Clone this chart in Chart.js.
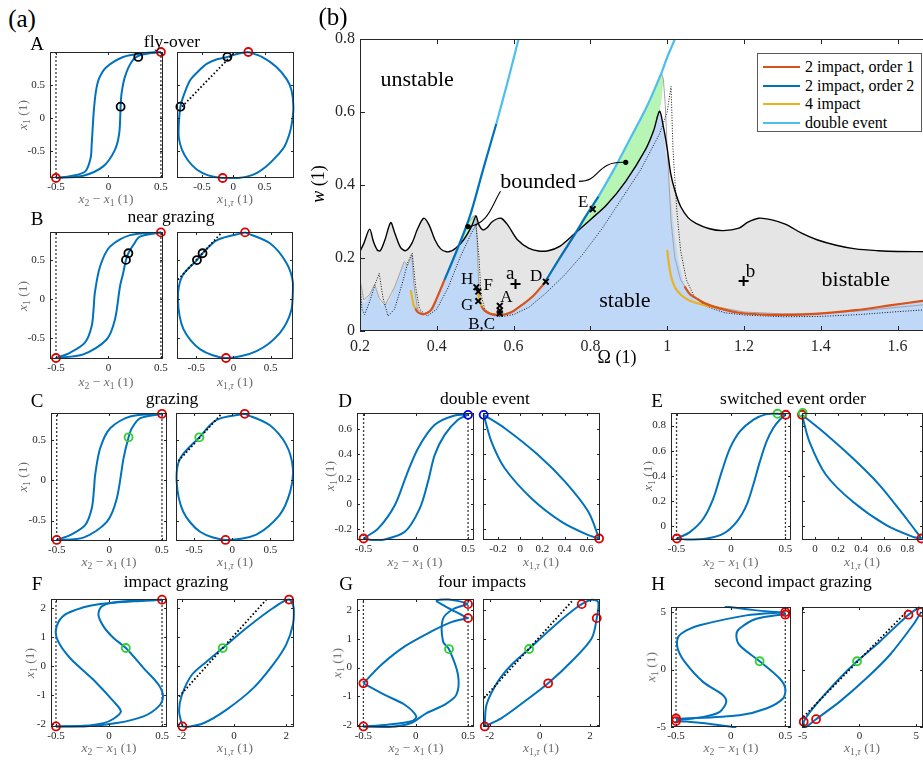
<!DOCTYPE html>
<html><head><meta charset="utf-8">
<script src="https://cdn.jsdelivr.net/npm/chart.js@4.4.1/dist/chart.umd.min.js"></script>
<style>
html,body{margin:0;padding:0;}
body{width:923px;height:764px;overflow:hidden;background:#fff;position:relative;font-family:"Liberation Serif","Times New Roman",serif;}
canvas.c{position:absolute;}
.t{position:absolute;white-space:nowrap;line-height:1;color:#000;transform:translate(-50%,-50%);}
.t sub{font-size:0.72em;vertical-align:-0.28em;line-height:0;}
.g{color:#6e6e6e;}
.legend{position:absolute;left:757px;top:53px;width:163px;height:77px;border:1px solid #5a5a5a;background:#fff;}
.legend .row{position:absolute;left:0;height:18px;}
.legend .ln{position:absolute;left:5px;width:37px;height:0;border-top:2.4px solid;}
.legend .tx{position:absolute;left:47px;font-size:16px;white-space:nowrap;line-height:1;}
</style></head><body>
<script>
// ---------------- DATA : panel (b) ----------------
const bTicksX = [0.2,0.4,0.6,0.8,1,1.2,1.4,1.6];
const bTicksY = [0,0.2,0.4,0.6,0.8];
const bBlackCurve = [[0.2,0.218],[0.21,0.24],[0.225,0.279],[0.235,0.245],[0.245,0.222],[0.253,0.22],[0.265,0.25],[0.28,0.297],[0.29,0.27],[0.305,0.23],[0.319,0.22],[0.335,0.24],[0.35,0.28],[0.366,0.309],[0.38,0.29],[0.395,0.25],[0.41,0.225],[0.425,0.217],[0.44,0.22],[0.455,0.232],[0.47,0.25],[0.481,0.268],[0.492,0.29],[0.502,0.315],[0.51,0.29],[0.52,0.277],[0.53,0.282],[0.545,0.3],[0.567,0.309],[0.585,0.29],[0.61,0.25],[0.639,0.227],[0.665,0.219],[0.69,0.22],[0.72,0.232],[0.76,0.268],[0.8,0.305],[0.842,0.345],[0.892,0.41],[0.943,0.496],[0.965,0.55],[0.98,0.602],[0.99,0.56],[1.0,0.5],[1.009,0.432],[1.02,0.385],[1.035,0.341],[1.055,0.31],[1.075,0.295],[1.11,0.28],[1.146,0.275],[1.187,0.282],[1.21,0.298],[1.238,0.309],[1.27,0.305],[1.309,0.292],[1.35,0.268],[1.39,0.25],[1.44,0.235],[1.49,0.225],[1.55,0.22],[1.6,0.218],[1.7,0.217]];
const bStableBoundary = [[0.2,0.13],[0.207,0.078],[0.215,0.08],[0.225,0.1],[0.238,0.126],[0.248,0.09],[0.258,0.07],[0.275,0.08],[0.295,0.13],[0.31,0.175],[0.319,0.19],[0.327,0.175],[0.333,0.2],[0.337,0.21],[0.342,0.12],[0.35,0.06],[0.36,0.048],[0.37,0.047],[0.385,0.058],[0.4,0.09],[0.42,0.14],[0.44,0.19],[0.455,0.232],[0.47,0.25],[0.481,0.268],[0.492,0.29],[0.502,0.315],[0.505,0.22],[0.508,0.13],[0.513,0.08],[0.52,0.058],[0.535,0.047],[0.56,0.044],[0.59,0.05],[0.62,0.068],[0.65,0.095],[0.68,0.131],[0.72,0.2],[0.76,0.268],[0.8,0.305],[0.842,0.345],[0.892,0.41],[0.943,0.496],[0.965,0.55],[0.98,0.602],[0.985,0.59],[0.99,0.55],[1.0,0.45],[1.01,0.36],[1.02,0.26],[1.03,0.19],[1.04,0.145],[1.047,0.12],[1.06,0.1],[1.075,0.09],[1.1,0.075],[1.136,0.062],[1.187,0.05],[1.25,0.045],[1.3,0.044],[1.39,0.047],[1.49,0.057],[1.58,0.07],[1.66,0.082],[1.7,0.088]];
const bGreenLeft = [[0.455,0.232],[0.47,0.268],[0.481,0.295],[0.495,0.315],[0.502,0.316],[0.492,0.29],[0.481,0.268],[0.47,0.25],[0.455,0.232]];
const bGreenRight = [[0.76,0.268],[0.82,0.37],[0.86,0.44],[0.9,0.52],[0.94,0.6],[0.96,0.645],[0.985,0.707],[0.99,0.69],[0.985,0.63],[0.98,0.602],[0.965,0.55],[0.943,0.496],[0.892,0.41],[0.842,0.345],[0.8,0.305],[0.76,0.268]];
const bGrayThin = [[0.2,0.14],[0.21,0.085],[0.225,0.1],[0.238,0.128],[0.25,0.09],[0.265,0.07],[0.29,0.12],[0.315,0.19],[0.325,0.18],[0.335,0.21],[0.34,0.13],[0.35,0.06],[0.365,0.046],[0.39,0.06],[0.42,0.14],[0.455,0.232],[0.47,0.268],[0.481,0.295],[0.495,0.315],[0.502,0.316],[0.505,0.25],[0.508,0.15],[0.512,0.09],[0.52,0.06],[0.54,0.047],[0.57,0.045],[0.6,0.055],[0.64,0.085],[0.68,0.13],[0.72,0.195],[0.76,0.262],[0.82,0.37],[0.86,0.44],[0.9,0.52],[0.94,0.6],[0.96,0.645],[0.985,0.707],[0.99,0.69],[0.995,0.62],[1.0,0.5],[1.005,0.4],[1.01,0.3],[1.02,0.2],[1.035,0.14],[1.06,0.1],[1.1,0.072],[1.2,0.052],[1.3,0.047],[1.4,0.049],[1.5,0.055],[1.6,0.065],[1.7,0.075]];
const bDotted = [[0.2,0.13],[0.205,0.06],[0.212,0.045],[0.225,0.08],[0.24,0.13],[0.25,0.158],[0.26,0.09],[0.273,0.041],[0.29,0.06],[0.31,0.13],[0.325,0.19],[0.336,0.213],[0.345,0.12],[0.355,0.06],[0.375,0.041],[0.4,0.06],[0.43,0.12],[0.46,0.2],[0.49,0.268],[0.502,0.29],[0.51,0.2],[0.515,0.1],[0.525,0.06],[0.545,0.043],[0.567,0.039],[0.6,0.045],[0.64,0.065],[0.68,0.1],[0.73,0.15],[0.78,0.21],[0.83,0.28],[0.88,0.36],[0.93,0.44],[0.98,0.54],[1.0,0.6],[1.01,0.67],[1.015,0.5],[1.025,0.33],[1.035,0.22],[1.05,0.14],[1.07,0.095],[1.1,0.068],[1.15,0.05],[1.2,0.044],[1.3,0.039],[1.4,0.04],[1.5,0.045],[1.6,0.053],[1.7,0.06]];
const bImpact1Order1 = [[[0.344,0.062],[0.35,0.052],[0.36,0.047],[0.37,0.047],[0.385,0.058],[0.4,0.09],[0.42,0.14]],
  [[0.516,0.068],[0.525,0.055],[0.54,0.047],[0.56,0.044],[0.58,0.046],[0.6,0.055],[0.62,0.07],[0.65,0.095],[0.68,0.131]],
  [[1.045,0.122],[1.06,0.1],[1.075,0.09],[1.1,0.075],[1.136,0.062],[1.187,0.05],[1.25,0.045],[1.3,0.044],[1.39,0.047],[1.49,0.057],[1.58,0.07],[1.66,0.082],[1.7,0.088]]];
const bImpact4 = [[[0.332,0.112],[0.336,0.09],[0.34,0.07],[0.344,0.062]],
  [[0.505,0.118],[0.508,0.1],[0.512,0.08],[0.516,0.068]],
  [[1.0,0.222],[1.005,0.18],[1.01,0.15],[1.02,0.12],[1.035,0.1],[1.055,0.085],[1.085,0.074],[1.116,0.066],[1.15,0.06]]];
const bImpact2Order2 = [[[0.42,0.14],[0.45,0.215],[0.486,0.314],[0.52,0.44],[0.555,0.568]],
  [[0.68,0.131],[0.72,0.2],[0.76,0.266],[0.79,0.318],[0.821,0.368]]];
const bDoubleEvent = [[[0.555,0.568],[0.585,0.685],[0.613,0.8],[0.62,0.83]],
  [[0.821,0.368],[0.86,0.44],[0.9,0.52],[0.94,0.6],[0.96,0.645],[0.985,0.707],[1.0,0.75],[1.02,0.8],[1.03,0.83]]];
const bCrossX = [[0.806,0.334],[0.684,0.135],[0.564,0.069],[0.564,0.048],[0.564,0.056],[0.503,0.12],[0.508,0.108],[0.508,0.082]];
const bCrossPlus = [[0.605,0.129],[1.199,0.137]];
const bDots = [[0.481,0.286],[0.892,0.462]];
const bLegendNames = ['2 impact, order 1','2 impact, order 2','4 impact','double event'];

// ---------------- DATA : panels A-H ----------------
const tHalf = [-0.5,0,0.5];
const tD = [-0.2,0,0.2,0.4,0.6];
const tE = [0,0.2,0.4,0.6,0.8];
const tTwo = [-2,-1,0,1,2];
const tTwoX = [-2,0,2];
const tFive = [-5,0,5];

const A_left = [[[-0.5,-0.9],[-0.35,-0.87],[-0.22,-0.8],[-0.17,-0.6],[-0.16,-0.4],[-0.14,0.1],[-0.12,0.4],[-0.09,0.6],[-0.02,0.77],[0.14,0.925],[0.33,0.98],[0.5,1.0]],
  [[0.5,1.0],[0.3,0.95],[0.22,0.85],[0.157,0.625],[0.125,0.375],[0.116,0.175],[0.103,-0.225],[0.062,-0.475],[-0.05,-0.725],[-0.24,-0.865],[-0.5,-0.9]]];
const A_right = [[[0.24,1.0],[0.45,0.93],[0.69,0.775],[0.86,0.58],[0.93,0.425],[0.96,0.175],[0.94,-0.05],[0.9,-0.225],[0.82,-0.42],[0.69,-0.575],[0.52,-0.73],[0.32,-0.85],[0.08,-0.9],[-0.17,-0.9],[-0.4,-0.86],[-0.58,-0.775],[-0.72,-0.64],[-0.82,-0.475],[-0.87,-0.3],[-0.873,-0.125],[-0.846,0.175],[-0.78,0.38],[-0.69,0.575],[-0.56,0.71],[-0.42,0.825],[-0.26,0.89],[-0.095,0.925],[0.06,0.97],[0.24,1.0]]];
const A_tangent = [[-0.82,0.175],[0.0,0.975]];
const A_red = [[[0.5,1.0],[-0.5,-0.9]],[[0.24,1.0],[-0.17,-0.9]]];
const A_black = [[[0.116,0.175],[0.284,0.925]],[[-0.846,0.175],[-0.095,0.925]]];

const B_left = [[[-0.5,-0.757],[-0.367,-0.69],[-0.224,-0.56],[-0.16,-0.35],[-0.14,-0.1],[-0.13,0.077],[-0.08,0.417],[0.014,0.672],[0.205,0.82],[0.5,0.855]],
  [[0.5,0.855],[0.3,0.8],[0.24,0.7],[0.19,0.587],[0.167,0.502],[0.14,0.33],[0.11,0.16],[0.062,-0.264],[-0.017,-0.52],[-0.24,-0.71],[-0.5,-0.757]]];
const B_right = [[[0.156,0.855],[0.49,0.715],[0.714,0.46],[0.8,0.204],[0.78,-0.136],[0.625,-0.434],[0.31,-0.668],[-0.1,-0.757],[-0.446,-0.647],[-0.67,-0.39],[-0.745,-0.01],[-0.69,0.29],[-0.49,0.5],[-0.415,0.587],[-0.22,0.757],[0.156,0.855]]];
const B_tangent = [[-0.745,0.247],[-0.156,0.855]];
const B_red = [[[0.5,0.855],[-0.5,-0.757]],[[0.156,0.855],[-0.1,-0.757]]];
const B_black = [[[0.19,0.587],[0.167,0.502]],[[-0.49,0.5],[-0.415,0.587]]];

const C_left = [[[-0.5,-0.742],[-0.373,-0.683],[-0.23,-0.558],[-0.167,-0.35],[-0.145,-0.1],[-0.135,0.067],[-0.087,0.4],[0.008,0.65],[0.198,0.796],[0.5,0.83]],
  [[0.5,0.83],[0.294,0.775],[0.214,0.65],[0.183,0.537],[0.135,0.275],[0.071,-0.225],[-0.024,-0.517],[-0.246,-0.713],[-0.5,-0.742]]];
const C_right = [[[0.165,0.83],[0.49,0.69],[0.71,0.44],[0.795,0.15],[0.76,-0.14],[0.62,-0.433],[0.317,-0.675],[-0.087,-0.742],[-0.42,-0.64],[-0.64,-0.39],[-0.726,-0.017],[-0.68,0.275],[-0.43,0.537],[-0.204,0.754],[0.165,0.83]]];
const C_tangent = [[-0.704,0.242],[-0.139,0.83]];
const C_red = [[[0.5,0.83],[-0.5,-0.742]],[[0.165,0.83],[-0.087,-0.742]]];
const C_green = [[[0.183,0.537]],[[-0.43,0.537]]];

const D_left = [[[-0.5,-0.278],[-0.359,-0.197],[-0.2,-0.009],[-0.089,0.232],[0.022,0.447],[0.181,0.635],[0.371,0.71],[0.5,0.715]],
  [[-0.5,-0.278],[-0.42,-0.29],[-0.327,-0.291],[-0.105,-0.224],[0.038,-0.036],[0.117,0.179],[0.181,0.393],[0.276,0.554],[0.403,0.675],[0.5,0.715]]];
const D_right = [[[-0.33,0.715],[-0.14,0.608],[0.162,0.393],[0.404,0.179],[0.615,-0.063],[0.712,-0.278]],
  [[-0.33,0.715],[-0.26,0.5],[-0.14,0.286],[0.102,0.044],[0.374,-0.144],[0.615,-0.251],[0.712,-0.278]]];
const D_red = [[[-0.5,-0.278]],[[0.712,-0.278]]];
const D_blue = [[[0.5,0.715]],[[-0.33,0.715]]];

const E_left = [[[-0.497,-0.098],[-0.375,-0.045],[-0.253,0.061],[-0.162,0.221],[-0.085,0.434],[-0.009,0.62],[0.082,0.753],[0.204,0.846],[0.326,0.891],[0.427,0.894],[0.503,0.886]],
  [[0.503,0.886],[0.448,0.846],[0.387,0.779],[0.326,0.673],[0.265,0.513],[0.204,0.327],[0.143,0.168],[0.052,0.035],[-0.07,-0.059],[-0.223,-0.098],[-0.405,-0.106],[-0.497,-0.098]]];
const E_right = [[[-0.113,0.886],[0.067,0.753],[0.328,0.54],[0.559,0.327],[0.791,0.061],[0.922,-0.098]],
  [[-0.113,0.886],[-0.049,0.673],[0.096,0.407],[0.328,0.194],[0.617,0.008],[0.849,-0.085],[0.922,-0.098]]];
const E_red = [[[-0.497,-0.098],[0.503,0.886]],[[-0.113,0.886],[0.922,-0.098]]];
const E_green = [[[0.427,0.894]],[[-0.107,0.9]]];

const F_left = [[[0.5,2.287],[0.232,2.23],[-0.084,2.138],[-0.241,2.023],[-0.415,1.77],[-0.494,1.368],[-0.487,0.908],[-0.368,0.276],[-0.147,-0.471],[0.043,-1.218],[0.112,-1.563],[0.043,-1.816],[-0.052,-1.966],[-0.241,-2.057],[-0.5,-2.08]],
  [[0.5,2.287],[0.074,2.207],[-0.068,2.057],[-0.1,1.77],[-0.052,1.368],[0.043,0.966],[0.159,0.621],[0.326,-0.069],[0.468,-0.644],[0.509,-1.046],[0.468,-1.391],[0.326,-1.736],[0.074,-1.966],[-0.241,-2.08],[-0.5,-2.08]]];
const F_right = [[[-1.97,-2.08],[-2.1,-1.56],[-1.99,-0.99],[-1.61,-0.3],[-1.04,0.16],[-0.43,0.62],[0.48,1.31],[1.5,2.0],[2.11,2.29],[2.29,2.0],[2.26,1.43],[2.0,0.74],[1.5,0.05],[0.74,-0.76],[-0.28,-1.5],[-1.17,-1.97],[-1.8,-2.1],[-1.97,-2.08]]];
const F_tangent = [[-2.1,-1.05],[1.24,2.29]];
const F_red = [[[0.5,2.287],[-0.5,-2.08]],[[2.11,2.29],[-1.97,-2.08]]];
const F_green = [[[0.159,0.621]],[[-0.43,0.62]]];

const G_left = [[[-0.5,-0.55],[-0.328,0.099],[-0.105,0.741],[0.15,1.265],[0.341,1.592],[0.5,1.73]],
  [[0.5,1.73],[0.373,1.965],[0.245,2.22],[0.2,2.34],[0.31,2.38],[0.44,2.3],[0.5,2.22]],
  [[0.5,2.22],[0.36,2.05],[0.26,1.7],[0.261,0.915],[0.318,0.647],[0.404,-0.25],[0.389,-0.95],[0.277,-1.3],[0.1,-1.6],[-0.05,-1.95],[-0.25,-2.08],[-0.5,-2.07]],
  [[-0.5,-0.55],[-0.3,-0.95],[-0.105,-1.3],[0.006,-1.71],[-0.04,-1.88],[-0.27,-2.0],[-0.5,-2.06]]];
const G_right = [[[-2.2,-2.06],[-2.13,-1.3],[-1.67,-0.48],[-1.13,0.1],[-0.43,0.65],[0.47,1.38],[1.27,1.97],[1.67,2.22],[2.07,2.37],[2.33,2.29],[2.27,1.73],[2.07,1.03],[1.27,0.22],[0.33,-0.55],[-0.6,-1.18],[-1.53,-1.77],[-2.2,-2.06]]];
const G_tangent = [[-2.23,-1.07],[1.33,2.37]];
const G_red = [[[0.5,2.22],[0.5,1.73],[-0.5,-0.55],[-0.5,-2.06]],[[1.67,2.22],[2.27,1.73],[0.33,-0.55],[-2.2,-2.06]]];
const G_green = [[[0.318,0.647]],[[-0.43,0.65]]];

const H_left = [[[0.5,5.0],[0.143,4.72],[-0.284,3.86],[-0.405,3.42],[-0.48,2.84],[-0.485,1.83],[-0.42,0.67],[-0.253,-1.07],[-0.07,-2.23],[-0.04,-2.81],[-0.1,-3.68],[-0.25,-4.12],[-0.5,-4.4]],
  [[0.5,4.85],[0.235,4.43],[0.082,3.57],[0.052,2.99],[0.082,2.12],[0.265,0.725],[0.448,-0.78],[0.5,-1.65],[0.479,-2.52],[0.326,-3.39],[0.082,-3.97],[-0.5,-4.3]],
  [[-0.5,-4.45],[-0.2,-4.72],[0.052,-5.05]],
  [[0.5,4.92],[0.2,5.2],[-0.055,5.5]]];
const H_right = [[[-4.8,-5.0],[-4.91,-4.55],[-4.12,-3.39],[-1.76,-0.78],[-0.21,0.725],[1.76,2.41],[4.32,4.78],[5.3,5.45]],
  [[5.44,5.01],[4.7,3.86],[2.65,1.25],[0.59,-0.78],[-1.76,-2.81],[-3.82,-4.32],[-4.7,-5.0],[-4.8,-5.0]]];
const H_tangent = [[-4.94,-4.12],[4.41,5.3]];
const H_red = [[[-0.5,-4.26],[-0.5,-4.49],[0.5,5.01],[0.5,4.78]],[[-4.91,-4.55],[-3.82,-4.32],[4.32,4.78],[5.44,5.01]]];
const H_green = [[[0.265,0.725]],[[-0.21,0.725]]];

// ---------------- styling / layout ----------------
const FONT = '"Liberation Serif","Times New Roman",serif';
const BLUE='#0072bd', RED='#e00000', GREEN='#2fd02f', DBLUE='#0000ee', ORANGE_RED='#d95319', YELLOW='#edb120', LBLUE='#4dbeee';
const xy = a => a.map(p => ({x:p[0], y:p[1]}));

const framePlugin = {
  id:'frame',
  afterDraw(chart, args, o){
    const {ctx, chartArea:a, scales:{x,y}} = chart;
    const tl = o.tick || 3;
    ctx.save();
    ctx.strokeStyle='#262626'; ctx.lineWidth=1;
    ctx.strokeRect(Math.round(a.left)+0.5, Math.round(a.top)+0.5, Math.round(a.right-a.left)-1, Math.round(a.bottom-a.top)-1);
    ctx.beginPath();
    x.ticks.forEach(t=>{const p=Math.round(x.getPixelForValue(t.value))+0.5; ctx.moveTo(p,a.bottom); ctx.lineTo(p,a.bottom-tl); ctx.moveTo(p,a.top); ctx.lineTo(p,a.top+tl);});
    y.ticks.forEach(t=>{const p=Math.round(y.getPixelForValue(t.value))+0.5; ctx.moveTo(a.left,p); ctx.lineTo(a.left+tl,p); ctx.moveTo(a.right,p); ctx.lineTo(a.right-tl,p);});
    ctx.stroke(); ctx.restore();
  }
};

function makeChart(cfg){
  const [l,t,r,b] = cfg.box;
  const L=cfg.L, T=cfg.T, R=cfg.R, B=cfg.B;
  const cl=Math.round(l)-L, ct=Math.round(t)-T;
  const w=Math.round(r)-Math.round(l)+L+R, h=Math.round(b)-Math.round(t)+T+B;
  const cv=document.createElement('canvas');
  cv.className='c'; cv.width=w; cv.height=h;
  cv.style.left=cl+'px'; cv.style.top=ct+'px'; cv.style.width=w+'px'; cv.style.height=h+'px';
  document.body.appendChild(cv);
  const zeroPad = s => { s.paddingTop=0; s.paddingBottom=0; s.paddingLeft=0; s.paddingRight=0; };
  const chart = new Chart(cv, {
    type:'scatter',
    data:{datasets:cfg.datasets},
    options:{
      responsive:false, animation:false, devicePixelRatio:1, events:[],
      layout:{padding:{left:0,top:T,right:R,bottom:0}},
      plugins:{legend:{display:false}, tooltip:{enabled:false}, frame:{tick:cfg.tick}},
      scales:{
        x:{type:'linear', min:cfg.xr[0], max:cfg.xr[1],
           afterBuildTicks:s=>{s.ticks=cfg.xt.map(v=>({value:v}));},
           afterFit:s=>{s.height=B; zeroPad(s);},
           grid:{display:false, drawTicks:false, tickLength:0}, border:{display:false},
           ticks:{padding:cfg.xpad, color:'#262626', font:{family:FONT,size:cfg.fs}, maxRotation:0, autoSkip:false, callback:v=>String(v)}},
        y:{type:'linear', min:cfg.yr[0], max:cfg.yr[1],
           afterBuildTicks:s=>{s.ticks=cfg.yt.map(v=>({value:v}));},
           afterFit:s=>{s.width=L; zeroPad(s);},
           grid:{display:false, drawTicks:false, tickLength:0}, border:{display:false},
           ticks:{display:cfg.ylab, padding:cfg.ypad, color:'#262626', font:{family:FONT,size:cfg.fs}, autoSkip:false, callback:v=>String(v)}}
      }
    },
    plugins:[framePlugin].concat(cfg.extra||[])
  });
  return {chart, cl, ct};
}

function curveDs(c){return {data:xy(c), showLine:true, borderColor:BLUE, borderWidth:2, pointRadius:0, tension:0.3, fill:false, order:3, clip:1};}
function dottedDs(c,col,w,dash,ord){return {data:xy(c), showLine:true, borderColor:col, borderWidth:w, borderDash:dash, pointRadius:0, tension:0, fill:false, order:ord, clip:1};}
function circDs(pts,col){return {data:xy(pts), showLine:false, pointRadius:4, pointHoverRadius:4, pointBorderWidth:1.8, pointBorderColor:col, pointBackgroundColor:'rgba(0,0,0,0)', clip:false, order:0};}

function smallPanel(p){
  const ds=[];
  if(p.walls){
    ds.push(dottedDs([[-0.5,p.yr[0]],[-0.5,p.yr[1]]],'#3a3a3a',1.3,[2,2],4));
    ds.push(dottedDs([[0.5,p.yr[0]],[0.5,p.yr[1]]],'#3a3a3a',1.3,[2,2],4));
  }
  p.curves.forEach(c=>ds.push(curveDs(c)));
  if(p.tangent) ds.push(dottedDs(p.tangent,'#000',1.8,[1.6,2.2],1));
  (p.marks||[]).forEach(m=>{ if(m[0]) ds.push(circDs(m[0],m[1])); });
  return makeChart({box:p.box, L:32, T:8, R:8, B:20, xr:p.xr, yr:p.yr, xt:p.xt, yt:p.yt, ylab:p.ylab,
    fs:11, xpad:3, ypad:5, tick:3, datasets:ds});
}

const panels = [
  {box:[50,52,163,178], xr:[-0.557,0.52], yr:[-0.9,1.0], xt:tHalf, yt:tHalf, ylab:true, walls:true, curves:A_left, marks:[[A_red[0],RED],[A_black[0],'#000']]},
  {box:[177,52,294,178], xr:[-0.9,0.97], yr:[-0.9,1.0], xt:tHalf, yt:tHalf, ylab:false, curves:A_right, tangent:A_tangent, marks:[[A_red[1],RED],[A_black[1],'#000']]},
  {box:[50,232,163,359], xr:[-0.557,0.52], yr:[-0.77,0.86], xt:tHalf, yt:tHalf, ylab:true, walls:true, curves:B_left, marks:[[B_red[0],RED],[B_black[0],'#000']]},
  {box:[177,232,293,359], xr:[-0.758,0.80], yr:[-0.77,0.86], xt:tHalf, yt:tHalf, ylab:false, curves:B_right, tangent:B_tangent, marks:[[B_red[1],RED],[B_black[1],'#000']]},
  {box:[51,413,167,541], xr:[-0.554,0.548], yr:[-0.755,0.84], xt:tHalf, yt:tHalf, ylab:true, walls:true, curves:C_left, marks:[[C_red[0],RED],[C_green[0],GREEN]]},
  {box:[176,413,294,541], xr:[-0.735,0.81], yr:[-0.755,0.84], xt:tHalf, yt:tHalf, ylab:false, curves:C_right, tangent:C_tangent, marks:[[C_red[1],RED],[C_green[1],GREEN]]},
  {box:[357,413,474,540], xr:[-0.563,0.557], yr:[-0.29,0.73], xt:tHalf, yt:tD, ylab:true, walls:true, curves:D_left, marks:[[D_red[0],RED],[D_blue[0],DBLUE]]},
  {box:[483,413,600,540], xr:[-0.336,0.72], yr:[-0.29,0.73], xt:tD, yt:tD, ylab:false, curves:D_right, marks:[[D_red[1],RED],[D_blue[1],DBLUE]]},
  {box:[671,413,791,540], xr:[-0.551,0.551], yr:[-0.11,0.9], xt:tHalf, yt:tE, ylab:true, walls:true, curves:E_left, marks:[[E_red[0],RED],[E_green[0],GREEN]]},
  {box:[802,413,923,540], xr:[-0.113,0.936], yr:[-0.11,0.9], xt:tE, yt:tE, ylab:false, curves:E_right, marks:[[E_green[1],GREEN],[E_red[1],RED]]},
  {box:[51,599,167,727], xr:[-0.547,0.547], yr:[-2.1,2.31], xt:tHalf, yt:tTwo, ylab:true, walls:true, curves:F_left, marks:[[F_red[0],RED],[F_green[0],GREEN]]},
  {box:[177,599,294,727], xr:[-2.18,2.3], yr:[-2.1,2.31], xt:tTwoX, yt:tTwo, ylab:false, curves:F_right, tangent:F_tangent, marks:[[F_red[1],RED],[F_green[1],GREEN]]},
  {box:[357,599,474,727], xr:[-0.561,0.557], yr:[-2.08,2.4], xt:tHalf, yt:tTwo, ylab:true, walls:true, curves:G_left, marks:[[G_red[0],RED],[G_green[0],GREEN]]},
  {box:[483,599,600,727], xr:[-2.27,2.4], yr:[-2.08,2.4], xt:tTwoX, yt:tTwo, ylab:false, curves:G_right, tangent:G_tangent, marks:[[G_red[1],RED],[G_green[1],GREEN]]},
  {box:[671,607,791,727], xr:[-0.546,0.552], yr:[-5,5.45], xt:tHalf, yt:tFive, ylab:true, walls:true, curves:H_left, marks:[[H_red[0],RED],[H_green[0],GREEN]]},
  {box:[802,607,923,727], xr:[-5.06,5.6], yr:[-5,5.45], xt:tFive, yt:tFive, ylab:false, curves:H_right, tangent:H_tangent, marks:[[H_red[1],RED],[H_green[1],GREEN]]}
];
panels.forEach(smallPanel);

// ---------------- panel (b) ----------------
const connectorPlugin = {
  id:'connectors',
  afterDatasetsDraw(chart){
    const {ctx, scales:{x,y}} = chart;
    const P = p => [x.getPixelForValue(p[0]), y.getPixelForValue(p[1])];
    const beziers = [
      [[0.481,0.286],[0.535,0.29],[0.545,0.35],[0.566,0.383]],
      [[0.77,0.41],[0.83,0.41],[0.81,0.466],[0.892,0.462]]
    ];
    ctx.save(); ctx.strokeStyle='#000'; ctx.lineWidth=1.1;
    beziers.forEach(bz=>{const q=bz.map(P); ctx.beginPath(); ctx.moveTo(q[0][0],q[0][1]); ctx.bezierCurveTo(q[1][0],q[1][1],q[2][0],q[2][1],q[3][0],q[3][1]); ctx.stroke();});
    ctx.restore();
  }
};
const bDs = [];
bDs.push({data:xy(bBlackCurve), showLine:true, borderWidth:0, borderColor:'rgba(0,0,0,0)', backgroundColor:'#e5e5e5', fill:'origin', pointRadius:0, order:100});
bDs.push({data:xy(bGreenLeft), showLine:true, borderWidth:0, borderColor:'rgba(0,0,0,0)', backgroundColor:'#b6f5b4', fill:'shape', pointRadius:0, order:95});
bDs.push({data:xy(bGreenRight), showLine:true, borderWidth:0, borderColor:'rgba(0,0,0,0)', backgroundColor:'#b6f5b4', fill:'shape', pointRadius:0, order:94});
bDs.push({data:xy(bStableBoundary), showLine:true, borderWidth:0, borderColor:'rgba(0,0,0,0)', backgroundColor:'#bfd8f8', fill:'origin', pointRadius:0, order:90});
bDs.push({data:xy(bGrayThin), showLine:true, borderWidth:1, borderColor:'#a3a3a3', fill:false, pointRadius:0, order:60});
bDs.push({data:xy(bDotted), showLine:true, borderWidth:1, borderColor:'#111', borderDash:[1,1.6], fill:false, pointRadius:0, order:55});
bDs.push({data:xy(bBlackCurve), showLine:true, borderWidth:1.4, borderColor:'#000', fill:false, pointRadius:0, tension:0.3, order:50});
bDoubleEvent.forEach(s=>bDs.push({data:xy(s), showLine:true, borderWidth:2.2, borderColor:LBLUE, fill:false, pointRadius:0, tension:0.3, order:20, clip:0}));
bImpact2Order2.forEach(s=>bDs.push({data:xy(s), showLine:true, borderWidth:2.2, borderColor:BLUE, fill:false, pointRadius:0, tension:0.3, order:19}));
bImpact4.forEach(s=>bDs.push({data:xy(s), showLine:true, borderWidth:2.2, borderColor:YELLOW, fill:false, pointRadius:0, tension:0.3, order:18}));
bImpact1Order1.forEach(s=>bDs.push({data:xy(s), showLine:true, borderWidth:2.2, borderColor:ORANGE_RED, fill:false, pointRadius:0, tension:0.3, order:17}));
bDs.push({data:xy(bCrossX), showLine:false, pointStyle:'crossRot', pointRadius:4, pointBorderWidth:2, pointBorderColor:'#000', order:2, clip:false});
bDs.push({data:xy(bCrossPlus), showLine:false, pointStyle:'cross', pointRadius:5, pointBorderWidth:2, pointBorderColor:'#000', order:2, clip:false});
bDs.push({data:xy(bDots), showLine:false, pointStyle:'circle', pointRadius:2.6, pointBorderWidth:0, pointBackgroundColor:'#000', order:1, clip:false});

const bChart = makeChart({box:[360,39,936,331], L:50, T:39, R:24, B:31, xr:[0.2,1.7], yr:[0,0.8], xt:bTicksX, yt:bTicksY, ylab:true,
  fs:16, xpad:6, ypad:5, tick:5, datasets:bDs, extra:[connectorPlugin]});

// ---------------- text ----------------
function txt(html, x, y, size, cls, rot){
  const d=document.createElement('div');
  d.className='t'+(cls?' '+cls:'');
  d.innerHTML=html; d.style.left=x+'px'; d.style.top=y+'px'; d.style.fontSize=size+'px';
  if(rot) d.style.transform='translate(-50%,-50%) rotate(-90deg)';
  document.body.appendChild(d); return d;
}
txt('(a)',22,18,25); txt('(b)',333,16,25);
const letters=[['A',37,43],['B',37,218],['C',37,400],['D',345,400],['E',657,400],['F',37,583],['G',346,583],['H',658,583]];
letters.forEach(l=>txt(l[0],l[1],l[2],19));
const titles=[['fly-over',172,42],['near grazing',171,217],['grazing',172,399],['double event',485,399],['switched event order',793,399],['impact grazing',176,582],['four impacts',482,582],['second impact grazing',793,582]];
titles.forEach(t=>txt(t[0],t[1],t[2],17.5));
const XL='<i>x</i><sub>2</sub> − <i>x</i><sub>1</sub> (1)';
const XR='<i>x</i><sub>1,<i>τ</i></sub> (1)';
const YL='<i>x</i><sub>1</sub> (1)';
const xlabs=[[XL,106,199],[XR,235,199],[XL,106,382],[XR,235,382],[XL,109,562],[XR,235,562],[XL,415,562],[XR,541,562],[XL,731,562],[XR,862,562],[XL,109,748],[XR,235,748],[XL,416,748],[XR,541,748],[XL,731,748],[XR,862,748]];
xlabs.forEach(l=>txt(l[0],l[1],l[2],13.5,'g'));
const ylabs=[[23,115],[23,296],[23,477],[330,476],[648,476],[30,663],[337,663],[651,667]];
ylabs.forEach(l=>txt(YL,l[0],l[1],13.5,'g',true));
txt('<i>w</i> (1)',318,184,18,'',true);
txt('Ω (1)',617,357,18);

const bAnn=[['unstable',0.349,0.691,22],['bounded',0.664,0.41,22],['stable',0.89,0.085,22],['bistable',1.491,0.142,22],
  ['E',0.781,0.355,17],['D',0.659,0.154,17],['a',0.591,0.162,19],['H',0.479,0.144,17],['F',0.534,0.129,17],['G',0.479,0.074,17],['A',0.581,0.096,17],['B,C',0.517,0.023,17],['b',1.217,0.167,19]];
bAnn.forEach(a=>{
  const px=bChart.cl+bChart.chart.scales.x.getPixelForValue(a[1]);
  const py=bChart.ct+bChart.chart.scales.y.getPixelForValue(a[2]);
  txt(a[0],px,py,a[3]);
});

const leg=document.createElement('div'); leg.className='legend';
const legCols=[ORANGE_RED,BLUE,YELLOW,LBLUE];
bLegendNames.forEach((n,i)=>{
  const r=document.createElement('div'); r.className='row'; r.style.top=(4+i*18.6)+'px'; r.style.width='163px';
  r.innerHTML='<div class="ln" style="top:8px;border-color:'+legCols[i]+'"></div><div class="tx" style="top:1px">'+n+'</div>';
  leg.appendChild(r);
});
document.body.appendChild(leg);
</script>
</body></html>
